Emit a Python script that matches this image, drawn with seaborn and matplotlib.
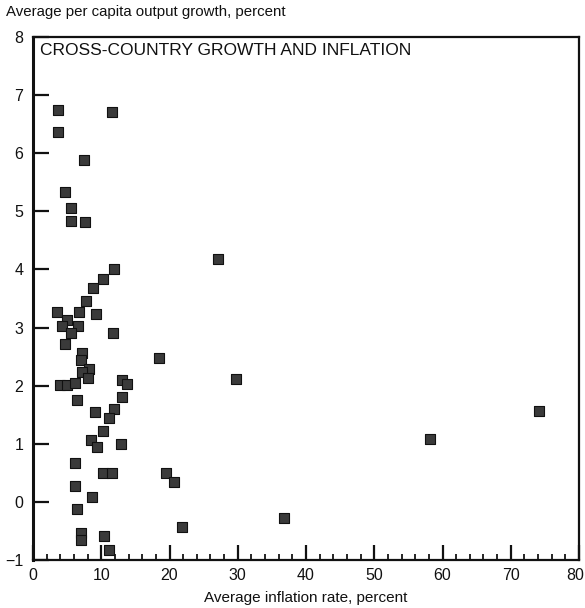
import matplotlib
matplotlib.use("Agg")
import matplotlib.pyplot as plt
import matplotlib.transforms as mtransforms
from matplotlib.ticker import MultipleLocator
import seaborn as sns
import pandas as pd

inflation = [3.6, 11.6, 3.6, 7.5, 4.7, 5.5, 5.6, 7.6, 27.1, 11.9, 10.3, 8.8, 7.7,
             3.5, 6.8, 9.3, 5.0, 4.3, 6.6, 5.6, 11.7, 4.7, 7.2, 7.0, 18.4, 8.2,
             7.2, 8.0, 29.7, 13.0, 13.7, 3.9, 5.0, 6.1, 6.4, 13.0, 11.8, 74.2,
             9.1, 11.1, 10.3, 58.1, 8.5, 9.4, 12.9, 6.2, 10.3, 11.6, 19.5, 20.6,
             6.1, 8.6, 6.4, 21.9, 36.8, 7.1, 7.1, 10.4, 11.2]
growth = [6.75, 6.71, 6.36, 5.89, 5.33, 5.05, 4.84, 4.82, 4.18, 4.00, 3.84, 3.68,
          3.45, 3.27, 3.27, 3.23, 3.13, 3.02, 3.03, 2.90, 2.90, 2.72, 2.57, 2.44,
          2.47, 2.28, 2.23, 2.14, 2.11, 2.09, 2.03, 2.01, 2.01, 2.04, 1.76, 1.80,
          1.60, 1.57, 1.54, 1.45, 1.22, 1.08, 1.07, 0.95, 0.99, 0.67, 0.50, 0.50,
          0.49, 0.35, 0.28, 0.09, -0.12, -0.43, -0.28, -0.53, -0.65, -0.58, -0.83]

title = "CROSS-COUNTRY GROWTH AND INFLATION"
y_label = "Average per capita output growth, percent"
x_label = "Average inflation rate, percent"
x_ticks = [0, 10, 20, 30, 40, 50, 60, 70, 80]
y_ticks = [-1, 0, 1, 2, 3, 4, 5, 6, 7, 8]

sns.set_style("white")
fam = ["Liberation Sans", "DejaVu Sans"]
plt.rcParams["font.family"] = fam

df = pd.DataFrame({"inflation": inflation, "growth": growth})

fig = plt.figure(figsize=(5.85, 6.08), dpi=100)
ax = fig.add_axes([33 / 585, 1 - 560 / 608, (579 - 33) / 585, (560 - 37) / 608])

sns.scatterplot(data=df, x="inflation", y="growth", marker="s", s=46,
                color="#3a3a3a", edgecolor="#111111", linewidth=0.8, ax=ax,
                zorder=3)

ax.set_xlim(0, 80)
ax.set_ylim(-1, 8)
ax.set_xticks(x_ticks)
ax.set_yticks(y_ticks)
ax.set_yticklabels(["\u22121" if v == -1 else str(v) for v in y_ticks])
ax.xaxis.set_minor_locator(MultipleLocator(2))
ax.set_xlabel("")
ax.set_ylabel("")

ax.tick_params(axis="x", which="major", direction="in", length=11, width=1.6,
               labelsize=11.5, pad=6, colors="#111111", bottom=True)
ax.tick_params(axis="x", which="minor", direction="in", length=4.5, width=1.4,
               bottom=True)
ax.tick_params(axis="y", which="major", direction="in", length=11.5, width=1.6,
               labelsize=11.5, pad=7, colors="#111111", left=True)

# nudge the last x tick label so it stays inside the figure
last = ax.get_xticklabels()[-1]
last.set_transform(last.get_transform() +
                   mtransforms.ScaledTranslation(-4 / 100, 0, fig.dpi_scale_trans))

for sp in ax.spines.values():
    sp.set_visible(True)
    sp.set_color("#111111")
    sp.set_linewidth(1.6)
ax.spines["left"].set_linewidth(2.2)

ax.text(0.012, 0.988, title, transform=ax.transAxes, ha="left", va="top",
        fontsize=12.5, color="#111111")

fig.text(6 / 585, 1 - 12 / 608, y_label, ha="left", va="center", fontsize=10.8,
         color="#111111")
fig.text(306 / 585, 1 - 598 / 608, x_label, ha="center", va="center",
         fontsize=11, color="#111111")

fig.savefig("out.png", dpi=100)
